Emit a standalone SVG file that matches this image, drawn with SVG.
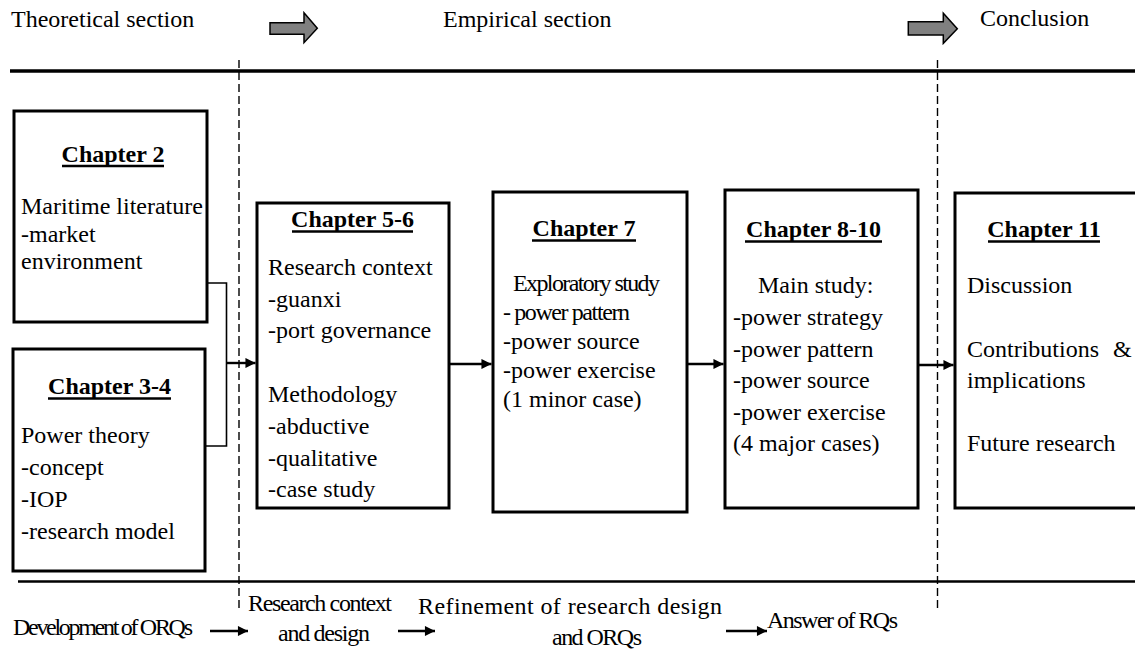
<svg xmlns="http://www.w3.org/2000/svg" width="1135" height="659" viewBox="0 0 1135 659" font-family="Liberation Serif, serif" font-size="24">
  <style>
    .title { font-weight: bold; text-anchor: middle; }
    .box { fill: #fff; stroke: #000; stroke-width: 3; }
    .uline { stroke: #000; stroke-width: 2.6; }
    .rule { stroke: #000; fill: none; }
    .dash { stroke: #000; stroke-width: 1.4; stroke-dasharray: 8 4; fill: none; }
    .link { stroke: #000; stroke-width: 1.6; fill: none; }
    .flow { stroke: #000; stroke-width: 2.4; fill: none; }
    .phase { fill: #808080; stroke: #000; stroke-width: 1.5; stroke-linejoin: miter; }
  </style>
  <defs>
    <marker id="head" viewBox="0 0 10 10" refX="10" refY="5" markerWidth="5" markerHeight="4.2" orient="auto" markerUnits="strokeWidth">
      <path d="M0,0 L10,5 L0,10 z" fill="#000"/>
    </marker>
  </defs>

  <!-- section headings -->
  <g id="headings">
    <text x="11" y="27">Theoretical section</text>
    <text x="443" y="27">Empirical section</text>
    <text x="980" y="26">Conclusion</text>
    <path class="phase" d="M270,22.7 H304 V12.7 L317.3,28.3 L304,42.7 V34.3 H270 Z"/>
    <path class="phase" d="M908.3,21.7 H943.3 V13.3 L957.3,28.7 L943.3,43.3 V35 H908.3 Z"/>
  </g>

  <!-- horizontal rules and section dividers -->
  <g id="frame">
    <line class="rule" x1="10" y1="71" x2="1135" y2="71" stroke-width="3.5"/>
    <line class="rule" x1="18" y1="581.5" x2="1135" y2="581.5" stroke-width="2.6"/>
    <line class="dash" x1="239" y1="60" x2="239" y2="609"/>
    <line class="dash" x1="937.5" y1="60" x2="937.5" y2="609"/>
  </g>

  <g id="ch2">
    <rect class="box" x="14" y="111" width="193" height="211"/>
    <text class="title" x="113" y="161.5">Chapter 2</text>
    <line class="uline" x1="62" y1="166" x2="164" y2="166"/>
    <text x="21" y="214">Maritime literature</text>
    <text x="21" y="241.5">-market</text>
    <text x="21" y="269">environment</text>
  </g>

  <g id="ch3-4">
    <rect class="box" x="13" y="349" width="192" height="222"/>
    <text class="title" x="109.5" y="394">Chapter 3-4</text>
    <line class="uline" x1="48" y1="398.5" x2="171" y2="398.5"/>
    <text x="21" y="443">Power theory</text>
    <text x="21" y="475">-concept</text>
    <text x="21" y="507">-IOP</text>
    <text x="21" y="539">-research model</text>
  </g>

  <g id="ch5-6">
    <rect class="box" x="257" y="203" width="192" height="305"/>
    <text class="title" x="352.5" y="227">Chapter 5-6</text>
    <line class="uline" x1="292" y1="231.5" x2="413" y2="231.5"/>
    <text x="268" y="275">Research context</text>
    <text x="268" y="307">-guanxi</text>
    <text x="268" y="338">-port governance</text>
    <text x="268" y="402">Methodology</text>
    <text x="268" y="434">-abductive</text>
    <text x="268" y="466">-qualitative</text>
    <text x="268" y="497">-case study</text>
  </g>

  <g id="ch7">
    <rect class="box" x="493" y="192" width="194" height="320"/>
    <text class="title" x="584" y="236">Chapter 7</text>
    <line class="uline" x1="532" y1="240.5" x2="636" y2="240.5"/>
    <text x="513" y="291" textLength="147">Exploratory study</text>
    <text x="503" y="320" textLength="127">- power pattern</text>
    <text x="503" y="349">-power source</text>
    <text x="503" y="378">-power exercise</text>
    <text x="503" y="407">(1 minor case)</text>
  </g>

  <g id="ch8-10">
    <rect class="box" x="725" y="190" width="193" height="318"/>
    <text class="title" x="813.5" y="237">Chapter 8-10</text>
    <line class="uline" x1="745" y1="241.5" x2="882" y2="241.5"/>
    <text x="758" y="293">Main study:</text>
    <text x="733" y="325">-power strategy</text>
    <text x="733" y="357">-power pattern</text>
    <text x="733" y="388">-power source</text>
    <text x="733" y="420">-power exercise</text>
    <text x="733" y="451">(4 major cases)</text>
  </g>

  <g id="ch11">
    <rect class="box" x="955" y="193" width="195" height="315"/>
    <text class="title" x="1044" y="237">Chapter 11</text>
    <line class="uline" x1="988" y1="241.5" x2="1100" y2="241.5"/>
    <text x="967" y="293">Discussion</text>
    <text x="967" y="357">Contributions</text>
    <text x="1113" y="357">&amp;</text>
    <text x="967" y="388">implications</text>
    <text x="967" y="451">Future research</text>
  </g>

  <!-- research-question progression along the bottom -->
  <g id="rq-steps">
    <text x="13" y="635" textLength="180">Development of ORQs</text>
    <text x="248" y="611" textLength="144">Research context</text>
    <text x="278" y="641" textLength="92">and design</text>
    <text x="418" y="614" textLength="304">Refinement of research design</text>
    <text x="552" y="645" textLength="90">and ORQs</text>
    <text x="767" y="628" textLength="131">Answer of RQs</text>
  </g>

  <g id="connectors">
    <polyline class="link" points="207,283 226.5,283 226.5,446 205,446"/>
    <line class="flow" x1="226.5" y1="363" x2="255.5" y2="363" marker-end="url(#head)"/>
    <line class="flow" x1="449" y1="364" x2="491.5" y2="364" marker-end="url(#head)"/>
    <line class="flow" x1="687" y1="364" x2="723.5" y2="364" marker-end="url(#head)"/>
    <line class="flow" x1="918" y1="365" x2="953.5" y2="365" marker-end="url(#head)"/>
    <line class="flow" x1="210" y1="631" x2="248" y2="631" marker-end="url(#head)"/>
    <line class="flow" x1="398" y1="631" x2="435" y2="631" marker-end="url(#head)"/>
    <line class="flow" x1="726" y1="631" x2="767" y2="631" marker-end="url(#head)"/>
  </g>
</svg>
